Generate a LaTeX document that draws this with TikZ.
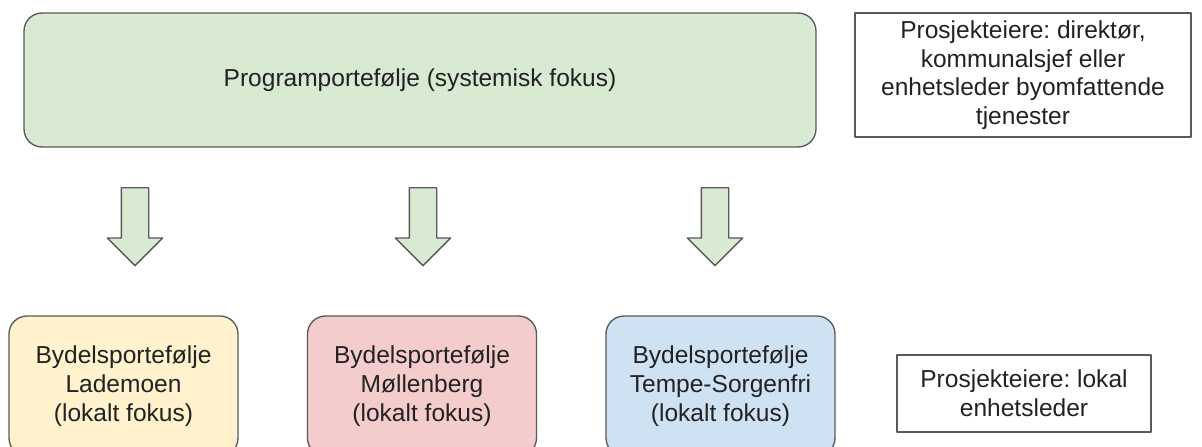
\documentclass[tikz,border=0pt]{standalone}
\usepackage{fontspec}
\setmainfont{Liberation Sans}
\usetikzlibrary{shapes.arrows}
\definecolor{gronn}{HTML}{D9EAD3}
\definecolor{gul}{HTML}{FFF2CC}
\definecolor{rosa}{HTML}{F4CCCC}
\definecolor{blaa}{HTML}{CFE2F3}
\definecolor{kant}{HTML}{595959}
\definecolor{tekst}{HTML}{222222}
\frenchspacing

\begin{document}
\begin{tikzpicture}[line cap=round,line join=round,x=0.75pt,y=-0.75pt,
  portefolje/.style={draw=kant,line width=1pt,rounded corners=13.5pt,align=center,text=tekst,inner sep=0pt,
    font=\fontsize{18.4}{21.5}\selectfont},
  eiere/.style={draw=kant,line width=1pt,align=center,text=tekst,inner sep=0pt,
    font=\fontsize{18.4}{21.5}\selectfont},
  pil/.style={single arrow,draw=kant,fill=gronn,line width=1pt,rotate=-90,anchor=tail,inner xsep=0pt,inner ysep=9.75pt,
    minimum height=58.5pt,minimum width=40.5pt,single arrow head extend=10.5pt,single arrow tip angle=90}]
\clip(0,0) rectangle (1202,446);
\fill[white] (0,0) rectangle (1202,446);
\node[portefolje,fill=gronn,minimum width=594pt,minimum height=100.5pt] (program) at (420,80) {Programportefølje (systemisk fokus)};
\node[eiere,minimum width=252pt,minimum height=93pt] (eiereprogram) at (1023,75) {Prosjekteiere: direktør,\\kommunalsjef eller\\enhetsleder byomfattende\\tjenester};
\node[pil] (pillademoen) at (135,187) {};
\node[pil] (pilmollenberg) at (423,187) {};
\node[pil] (piltempe) at (715,187) {};
\node[portefolje,fill=gul,minimum width=171.75pt,minimum height=105pt] (lademoen) at (123.5,386) {Bydelsportefølje\\Lademoen\\(lokalt fokus)};
\node[portefolje,fill=rosa,minimum width=171.75pt,minimum height=105pt] (mollenberg) at (422,386) {Bydelsportefølje\\Møllenberg\\(lokalt fokus)};
\node[portefolje,fill=blaa,minimum width=171.75pt,minimum height=105pt] (tempe) at (720.5,386) {Bydelsportefølje\\Tempe-Sorgenfri\\(lokalt fokus)};
\node[eiere,minimum width=190.5pt,minimum height=57.75pt] (eierelokal) at (1024,393.5) {Prosjekteiere: lokal\\enhetsleder};
\end{tikzpicture}
\end{document}
